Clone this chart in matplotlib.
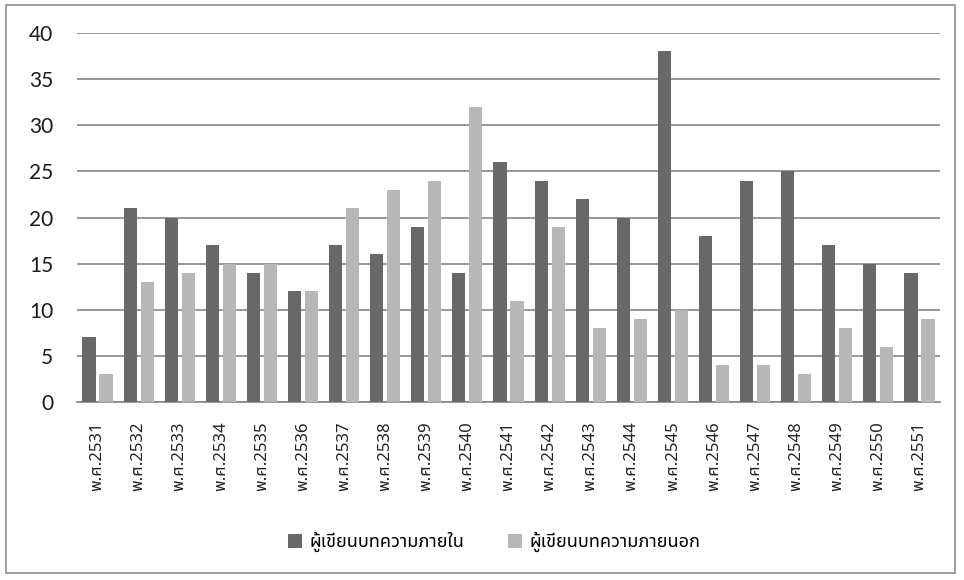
import matplotlib
matplotlib.use("Agg")
import matplotlib.pyplot as plt
import numpy as np
from matplotlib.patches import Rectangle

# Data
years = ['2531', '2532', '2533', '2534', '2535', '2536', '2537', '2538', '2539', '2540', '2541',
         '2542', '2543', '2544', '2545', '2546', '2547', '2548', '2549', '2550', '2551']
inner_authors = [7, 21, 20, 17, 14, 12, 17, 16, 19, 14, 26, 24, 22, 20, 38, 18, 24, 25, 17, 15, 14]
outer_authors = [3, 13, 14, 15, 15, 12, 21, 23, 24, 32, 11, 19, 8, 9, 10, 4, 4, 3, 8, 6, 9]
labels = ['พ.ศ.' + y for y in years]
legend_names = ['ผู้เขียนบทความภายใน', 'ผู้เขียนบทความภายนอก']

thai_fonts = ['Noto Sans Thai', 'Sarabun', 'Anuphan', 'DejaVu Sans']
num_fonts = ['Lato', 'DejaVu Sans']

dark = '#686868'
light = '#b7b7b7'

fig = plt.figure(figsize=(9.64, 5.8), dpi=100)
ax = fig.add_axes([77 / 964, 1 - 402 / 580, 863 / 964, 369 / 580])

x = np.arange(len(years))
w = 0.32
ax.bar(x - 0.207, inner_authors, w, color=dark, label=legend_names[0], zorder=3)
ax.bar(x + 0.207, outer_authors, w, color=light, label=legend_names[1], zorder=3)

ax.set_xlim(-0.5, len(years) - 0.5)
ax.set_ylim(0, 40)
ax.set_yticks(range(0, 41, 5))
ax.yaxis.grid(True, color='#868686', linewidth=1.2, zorder=0)
for s in ['top', 'right', 'left']:
    ax.spines[s].set_visible(False)
ax.spines['bottom'].set_color('#868686')
ax.spines['bottom'].set_linewidth(1.2)
ax.tick_params(axis='y', length=0, pad=17, labelsize=15)
for t in ax.get_yticklabels():
    t.set_family(num_fonts)
    t.set_color('#1a1a1a')
ax.set_xticks(x)
ax.set_xticklabels(labels, rotation=90, fontsize=12, family=thai_fonts, color='#222222')
ax.tick_params(axis='x', length=0, pad=14)

leg = fig.legend(loc='center', bbox_to_anchor=(494 / 964, 1 - 542 / 580), ncol=2, frameon=False,
                 prop={'family': thai_fonts, 'size': 13}, handlelength=0.8, handleheight=0.8,
                 handletextpad=0.4, columnspacing=2.4)

# outer chart border
fig.add_artist(Rectangle((6 / 964, 1 - 573 / 580), 949 / 964, 568 / 580, transform=fig.transFigure,
                         fill=False, edgecolor='#8c8c8c', linewidth=1.2))

fig.savefig('out.png', dpi=100)
